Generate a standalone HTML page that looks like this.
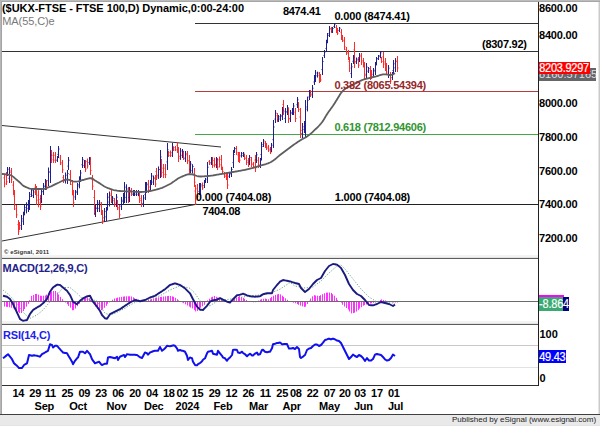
<!DOCTYPE html>
<html><head><meta charset="utf-8"><style>
html,body{margin:0;padding:0;}
body{width:600px;height:426px;position:relative;overflow:hidden;background:#fff;}
#w{position:absolute;left:0;top:0;width:600px;height:426px;}
</style></head><body><div id="w">
<svg width="600" height="426" style="position:absolute;left:0;top:0"><rect x="2" y="255" width="536" height="3" fill="#f3f3f3"/><rect x="2" y="321" width="536" height="3" fill="#f3f3f3"/><line x1="2" y1="258.5" x2="538" y2="258.5" stroke="#5c5c5c" stroke-width="1" /><line x1="2" y1="257.5" x2="538" y2="257.5" stroke="#e4e4e4" stroke-width="1" /><line x1="2" y1="324.5" x2="538" y2="324.5" stroke="#5c5c5c" stroke-width="1" /><line x1="2" y1="323.5" x2="538" y2="323.5" stroke="#e4e4e4" stroke-width="1" /><line x1="2" y1="385.5" x2="539" y2="385.5" stroke="#303030" stroke-width="1" /><line x1="538.5" y1="2" x2="538.5" y2="386" stroke="#202020" stroke-width="1" /><line x1="195" y1="23.5" x2="538" y2="23.5" stroke="#333" stroke-width="1" /><line x1="2" y1="51.5" x2="538" y2="51.5" stroke="#333" stroke-width="1" /><line x1="195" y1="91.5" x2="538" y2="91.5" stroke="#b43c3c" stroke-width="1.2" /><line x1="195" y1="134.5" x2="538" y2="134.5" stroke="#45a845" stroke-width="1.2" /><line x1="2" y1="204.5" x2="538" y2="204.5" stroke="#222" stroke-width="1" /><line x1="2" y1="125.5" x2="221" y2="147" stroke="#333" stroke-width="1" /><line x1="2" y1="241" x2="197" y2="204.2" stroke="#333" stroke-width="1" /><path d="M4.5,173.8V187.3M3.5,177.9h1M4.5,183.9h1M6.5,172.0V185.0M5.5,175.9h1M6.5,181.8h1M11.5,168.0V183.0M10.5,172.5h1M11.5,179.2h1M13.5,181.0V195.0M12.5,185.2h1M13.5,191.5h1M14.5,190.0V210.0M13.5,196.0h1M14.5,205.0h1M16.5,205.0V218.0M15.5,208.9h1M16.5,214.8h1M18.5,220.0V235.0M17.5,224.5h1M18.5,231.2h1M19.5,222.0V230.0M18.5,224.4h1M19.5,228.0h1M35.5,184.0V195.0M34.5,187.3h1M35.5,192.2h1M36.5,186.0V205.0M35.5,191.7h1M36.5,200.2h1M38.5,190.2V207.3M37.5,195.3h1M38.5,203.0h1M40.5,195.0V210.0M39.5,199.5h1M40.5,206.2h1M46.5,180.0V190.0M45.5,183.0h1M46.5,187.5h1M51.5,150.0V163.0M50.5,153.9h1M51.5,159.8h1M53.5,152.0V163.0M52.5,155.3h1M53.5,160.2h1M55.5,152.0V163.0M54.5,155.3h1M55.5,160.2h1M60.5,155.0V165.0M59.5,158.0h1M60.5,162.5h1M62.5,160.0V173.0M61.5,163.9h1M62.5,169.8h1M63.5,175.0V183.0M62.5,177.4h1M63.5,181.0h1M70.5,170.0V185.0M69.5,174.5h1M70.5,181.2h1M72.5,180.0V195.0M71.5,184.5h1M72.5,191.2h1M73.5,190.0V207.0M72.5,195.1h1M73.5,202.8h1M85.5,160.0V172.0M84.5,163.6h1M85.5,169.0h1M87.5,158.5V168.5M86.5,161.5h1M87.5,166.0h1M90.5,157.0V175.0M89.5,162.4h1M90.5,170.5h1M92.5,175.0V190.0M91.5,179.5h1M92.5,186.2h1M94.5,190.0V215.0M93.5,197.5h1M94.5,208.8h1M101.5,202.0V215.0M100.5,205.9h1M101.5,211.8h1M102.5,210.0V224.0M101.5,214.2h1M102.5,220.5h1M111.5,190.0V203.0M110.5,193.9h1M111.5,199.8h1M114.5,198.0V207.0M113.5,200.7h1M114.5,204.8h1M117.5,200.0V210.0M116.5,203.0h1M117.5,207.5h1M119.5,205.0V218.0M118.5,208.9h1M119.5,214.8h1M128.5,187.0V203.0M127.5,191.8h1M128.5,199.0h1M131.5,188.0V196.0M130.5,190.4h1M131.5,194.0h1M139.5,193.0V203.0M138.5,196.0h1M139.5,200.5h1M141.5,195.0V207.0M140.5,198.6h1M141.5,204.0h1M148.5,180.0V193.0M147.5,183.9h1M148.5,189.8h1M155.5,175.0V187.0M154.5,178.6h1M155.5,184.0h1M156.5,168.0V180.0M155.5,171.6h1M156.5,177.0h1M161.5,159.0V177.0M160.5,164.4h1M161.5,172.5h1M163.5,164.0V178.0M162.5,168.2h1M163.5,174.5h1M165.5,164.0V178.0M164.5,168.2h1M165.5,174.5h1M168.5,151.0V157.0M167.5,152.8h1M168.5,155.5h1M170.5,150.5V157.0M169.5,152.5h1M170.5,155.4h1M173.5,147.0V151.0M172.5,148.2h1M173.5,150.0h1M175.5,146.0V151.0M174.5,147.5h1M175.5,149.8h1M177.5,142.0V153.0M176.5,145.3h1M177.5,150.2h1M178.5,147.0V162.0M177.5,151.5h1M178.5,158.2h1M183.5,151.0V160.0M182.5,153.7h1M183.5,157.8h1M187.5,151.0V164.0M186.5,154.9h1M187.5,160.8h1M189.5,155.0V174.0M188.5,160.7h1M189.5,169.2h1M194.5,168.0V187.0M193.5,173.7h1M194.5,182.2h1M195.5,185.0V205.0M194.5,191.0h1M195.5,200.0h1M197.5,184.0V200.1M196.5,188.8h1M197.5,196.1h1M202.5,182.5V189.9M201.5,184.7h1M202.5,188.0h1M209.5,160.0V165.0M208.5,161.5h1M209.5,163.8h1M212.5,157.0V168.0M211.5,160.3h1M212.5,165.2h1M214.5,157.6V167.4M213.5,160.5h1M214.5,165.0h1M217.5,158.0V170.0M216.5,161.6h1M217.5,167.0h1M219.5,156.5V167.5M218.5,159.8h1M219.5,164.8h1M221.5,155.0V170.0M220.5,159.5h1M221.5,166.2h1M222.5,167.0V173.0M221.5,168.8h1M222.5,171.5h1M224.5,172.0V178.0M223.5,173.8h1M224.5,176.5h1M226.5,173.0V180.0M225.5,175.1h1M226.5,178.2h1M227.5,173.0V189.0M226.5,177.8h1M227.5,185.0h1M236.5,146.0V155.0M235.5,148.7h1M236.5,152.8h1M238.5,152.0V162.0M237.5,155.0h1M238.5,159.5h1M239.5,152.0V163.0M238.5,155.3h1M239.5,160.2h1M244.5,154.0V160.0M243.5,155.8h1M244.5,158.5h1M246.5,155.0V165.0M245.5,158.0h1M246.5,162.5h1M248.5,158.0V167.0M247.5,160.7h1M248.5,164.8h1M251.5,157.0V167.0M250.5,160.0h1M251.5,164.5h1M253.5,162.0V168.0M252.5,163.8h1M253.5,166.5h1M255.5,155.0V172.0M254.5,160.1h1M255.5,167.8h1M258.5,157.0V168.0M257.5,160.3h1M258.5,165.2h1M265.5,141.0V148.0M264.5,143.1h1M265.5,146.2h1M266.5,143.0V150.0M265.5,145.1h1M266.5,148.2h1M268.5,145.0V152.0M267.5,147.1h1M268.5,150.2h1M270.5,147.0V154.0M269.5,149.1h1M270.5,152.2h1M277.5,113.0V122.0M276.5,115.7h1M277.5,119.8h1M283.5,100.0V115.0M282.5,104.5h1M283.5,111.2h1M288.5,108.0V123.0M287.5,112.5h1M288.5,119.2h1M295.5,108.0V122.0M294.5,112.2h1M295.5,118.5h1M298.5,102.0V112.0M297.5,105.0h1M298.5,109.5h1M300.5,108.0V138.0M299.5,117.0h1M300.5,130.5h1M310.5,90.0V97.0M309.5,92.1h1M310.5,95.2h1M319.5,72.0V83.0M318.5,75.3h1M319.5,80.2h1M320.5,74.0V82.0M319.5,76.4h1M320.5,80.0h1M331.5,27.0V33.0M330.5,28.8h1M331.5,31.5h1M336.5,25.0V33.0M335.5,27.4h1M336.5,31.0h1M337.5,28.0V35.0M336.5,30.1h1M337.5,33.2h1M341.5,29.0V40.0M340.5,32.3h1M341.5,37.2h1M342.5,35.0V42.0M341.5,37.1h1M342.5,40.2h1M344.5,37.0V50.0M343.5,40.9h1M344.5,46.8h1M346.5,47.0V55.0M345.5,49.4h1M346.5,53.0h1M348.5,50.0V60.0M347.5,53.0h1M348.5,57.5h1M349.5,57.0V72.0M348.5,61.5h1M349.5,68.2h1M354.5,42.0V68.0M353.5,49.8h1M354.5,61.5h1M358.5,57.0V68.0M357.5,60.3h1M358.5,65.2h1M361.5,53.0V65.0M360.5,56.6h1M361.5,62.0h1M363.5,58.0V67.0M362.5,60.7h1M363.5,64.8h1M364.5,62.0V80.0M363.5,67.4h1M364.5,75.5h1M370.5,66.0V80.0M369.5,70.2h1M370.5,76.5h1M371.5,70.0V79.0M370.5,72.7h1M371.5,76.8h1M381.5,57.0V63.0M380.5,58.8h1M381.5,61.5h1M383.5,52.0V68.0M382.5,56.8h1M383.5,64.0h1M385.5,58.0V71.0M384.5,61.9h1M385.5,67.8h1M386.5,63.0V75.0M385.5,66.6h1M386.5,72.0h1M390.5,72.0V84.0M389.5,75.6h1M390.5,81.0h1M397.5,56.0V72.0M396.5,60.8h1M397.5,68.0h1" stroke="#ff2a2a" stroke-width="1" fill="none"/><path d="M7.5,167.0V176.0M6.5,173.3h1M7.5,169.2h1M9.5,167.0V183.0M8.5,178.2h1M9.5,171.0h1M21.5,215.0V230.0M20.5,225.5h1M21.5,218.8h1M23.5,212.0V225.0M22.5,221.1h1M23.5,215.2h1M24.5,205.0V215.0M23.5,212.0h1M24.5,207.5h1M26.5,202.3V213.4M25.5,210.0h1M26.5,205.1h1M28.5,200.0V212.0M27.5,208.4h1M28.5,203.0h1M29.5,192.0V210.0M28.5,204.6h1M29.5,196.5h1M31.5,188.0V197.0M30.5,194.3h1M31.5,190.2h1M33.5,190.0V198.0M32.5,195.6h1M33.5,192.0h1M41.5,188.0V203.0M40.5,198.5h1M41.5,191.8h1M43.5,183.0V195.0M42.5,191.4h1M43.5,186.0h1M45.5,179.0V190.0M44.5,186.7h1M45.5,181.8h1M48.5,167.5V186.2M47.5,180.6h1M48.5,172.2h1M50.5,146.0V183.0M49.5,171.9h1M50.5,155.2h1M57.5,156.0V162.0M56.5,160.2h1M57.5,157.5h1M58.5,146.0V158.0M57.5,154.4h1M58.5,149.0h1M65.5,172.5V183.5M64.5,180.2h1M65.5,175.2h1M67.5,170.0V184.0M66.5,179.8h1M67.5,173.5h1M68.5,157.0V170.0M67.5,166.1h1M68.5,160.2h1M75.5,190.0V200.0M74.5,197.0h1M75.5,192.5h1M77.5,183.0V195.0M76.5,191.4h1M77.5,186.0h1M79.5,176.3V188.3M78.5,184.7h1M79.5,179.3h1M80.5,170.0V182.0M79.5,178.4h1M80.5,173.0h1M82.5,157.0V168.0M81.5,164.7h1M82.5,159.8h1M84.5,160.0V168.0M83.5,165.6h1M84.5,162.0h1M89.5,157.0V165.0M88.5,162.6h1M89.5,159.0h1M95.5,205.0V217.0M94.5,213.4h1M95.5,208.0h1M97.5,200.0V212.0M96.5,208.4h1M97.5,203.0h1M99.5,200.0V212.0M98.5,208.4h1M99.5,203.0h1M104.5,208.0V222.0M103.5,217.8h1M104.5,211.5h1M106.5,207.0V221.0M105.5,216.8h1M106.5,210.5h1M107.5,193.0V210.0M106.5,204.9h1M107.5,197.2h1M109.5,191.5V206.5M108.5,202.0h1M109.5,195.3h1M112.5,196.0V205.0M111.5,202.3h1M112.5,198.2h1M116.5,194.0V207.0M115.5,203.1h1M116.5,197.2h1M121.5,197.0V210.0M120.5,206.1h1M121.5,200.2h1M123.5,193.0V205.0M122.5,201.4h1M123.5,196.0h1M124.5,182.0V203.0M123.5,196.7h1M124.5,187.2h1M126.5,184.3V203.0M125.5,197.4h1M126.5,189.0h1M129.5,187.0V202.0M128.5,197.5h1M129.5,190.8h1M133.5,190.0V196.0M132.5,194.2h1M133.5,191.5h1M134.5,190.0V196.0M133.5,194.2h1M134.5,191.5h1M136.5,190.0V196.0M135.5,194.2h1M136.5,191.5h1M138.5,190.0V196.0M137.5,194.2h1M138.5,191.5h1M143.5,195.0V207.0M142.5,203.4h1M143.5,198.0h1M145.5,182.0V200.0M144.5,194.6h1M145.5,186.5h1M146.5,182.0V193.0M145.5,189.7h1M146.5,184.8h1M150.5,180.0V190.0M149.5,187.0h1M150.5,182.5h1M151.5,173.0V185.0M150.5,181.4h1M151.5,176.0h1M153.5,175.5V185.0M152.5,182.1h1M153.5,177.9h1M158.5,166.4V178.9M157.5,175.2h1M158.5,169.5h1M160.5,150.0V178.0M159.5,169.6h1M160.5,157.0h1M167.5,143.0V170.0M166.5,161.9h1M167.5,149.8h1M172.5,143.0V157.0M171.5,152.8h1M172.5,146.5h1M180.5,148.1V159.9M179.5,156.3h1M180.5,151.0h1M182.5,149.0V158.0M181.5,155.3h1M182.5,151.2h1M185.5,151.0V162.0M184.5,158.7h1M185.5,153.8h1M190.5,161.0V173.0M189.5,169.4h1M190.5,164.0h1M192.5,164.2V173.5M191.5,170.7h1M192.5,166.5h1M199.5,183.0V195.0M198.5,191.4h1M199.5,186.0h1M200.5,183.0V195.0M199.5,191.4h1M200.5,186.0h1M204.5,180.0V188.0M203.5,185.6h1M204.5,182.0h1M205.5,178.0V183.0M204.5,181.5h1M205.5,179.2h1M207.5,162.0V183.0M206.5,176.7h1M207.5,167.2h1M211.5,157.0V165.0M210.5,162.6h1M211.5,159.0h1M216.5,157.0V168.0M215.5,164.7h1M216.5,159.8h1M229.5,172.0V178.0M228.5,176.2h1M229.5,173.5h1M231.5,167.0V177.0M230.5,174.0h1M231.5,169.5h1M233.5,150.0V168.0M232.5,162.6h1M233.5,154.5h1M234.5,147.0V153.0M233.5,151.2h1M234.5,148.5h1M241.5,152.0V157.5M240.5,155.9h1M241.5,153.4h1M243.5,152.0V157.0M242.5,155.5h1M243.5,153.2h1M249.5,155.0V165.0M248.5,162.0h1M249.5,157.5h1M256.5,152.0V163.0M255.5,159.7h1M256.5,154.8h1M260.5,158.0V168.0M259.5,165.0h1M260.5,160.5h1M261.5,142.0V160.0M260.5,154.6h1M261.5,146.5h1M263.5,139.0V147.0M262.5,144.6h1M263.5,141.0h1M271.5,143.0V152.0M270.5,149.3h1M271.5,145.2h1M273.5,120.0V148.0M272.5,139.6h1M273.5,127.0h1M275.5,110.0V123.0M274.5,119.1h1M275.5,113.2h1M278.5,115.0V122.0M277.5,119.9h1M278.5,116.8h1M280.5,114.1V121.1M279.5,119.0h1M280.5,115.9h1M282.5,107.0V120.0M281.5,116.1h1M282.5,110.2h1M285.5,108.0V123.0M284.5,118.5h1M285.5,111.8h1M287.5,105.0V115.0M286.5,112.0h1M287.5,107.5h1M290.5,110.0V122.0M289.5,118.4h1M290.5,113.0h1M292.5,108.0V115.0M291.5,112.9h1M292.5,109.8h1M293.5,103.0V115.0M292.5,111.4h1M293.5,106.0h1M297.5,97.0V108.0M296.5,104.7h1M297.5,99.8h1M302.5,123.0V138.0M301.5,133.5h1M302.5,126.8h1M304.5,121.0V133.0M303.5,129.4h1M304.5,124.0h1M305.5,100.0V137.0M304.5,125.9h1M305.5,109.2h1M307.5,96.6V111.4M306.5,107.0h1M307.5,100.3h1M309.5,90.0V100.0M308.5,97.0h1M309.5,92.5h1M312.5,85.0V98.0M311.5,94.1h1M312.5,88.2h1M314.5,75.0V85.0M313.5,82.0h1M314.5,77.5h1M315.5,70.0V82.0M314.5,78.4h1M315.5,73.0h1M317.5,71.7V77.6M316.5,75.8h1M317.5,73.1h1M322.5,57.0V75.0M321.5,69.6h1M322.5,61.5h1M324.5,50.0V58.0M323.5,55.6h1M324.5,52.0h1M326.5,40.0V52.0M325.5,48.4h1M326.5,43.0h1M327.5,33.0V43.0M326.5,40.0h1M327.5,35.5h1M329.5,26.0V37.0M328.5,33.7h1M329.5,28.8h1M332.5,27.0V33.0M331.5,31.2h1M332.5,28.5h1M334.5,23.0V28.0M333.5,26.5h1M334.5,24.2h1M339.5,27.0V32.0M338.5,30.5h1M339.5,28.2h1M351.5,63.0V78.0M350.5,73.5h1M351.5,66.8h1M353.5,55.0V64.0M352.5,61.3h1M353.5,57.2h1M356.5,57.5V64.0M355.5,62.0h1M356.5,59.1h1M359.5,53.0V62.0M358.5,59.3h1M359.5,55.2h1M366.5,63.0V79.0M365.5,74.2h1M366.5,67.0h1M368.5,67.0V73.0M367.5,71.2h1M368.5,68.5h1M373.5,68.0V77.0M372.5,74.3h1M373.5,70.2h1M375.5,62.0V75.0M374.5,71.1h1M375.5,65.2h1M376.5,57.0V65.0M375.5,62.6h1M376.5,59.0h1M378.5,55.0V60.0M377.5,58.5h1M378.5,56.2h1M380.5,51.0V58.0M379.5,55.9h1M380.5,52.8h1M388.5,65.0V78.0M387.5,74.1h1M388.5,68.2h1M392.5,72.0V80.0M391.5,77.6h1M392.5,74.0h1M393.5,60.0V75.0M392.5,70.5h1M393.5,63.8h1M395.5,58.1V72.0M394.5,67.8h1M395.5,61.6h1" stroke="#1e1e8c" stroke-width="1" fill="none"/><polyline points="2.00,174.00 3.00,174.02 4.00,174.08 5.00,174.16 6.00,174.28 7.00,174.43 8.00,174.60 9.00,174.79 10.00,175.00 11.00,175.34 12.00,175.90 13.00,176.61 14.00,177.44 15.00,178.31 16.00,179.18 17.00,180.00 18.00,180.83 19.00,181.75 20.00,182.72 21.00,183.69 22.00,184.62 23.00,185.46 24.00,186.17 25.00,186.70 26.00,187.13 27.00,187.54 28.00,187.93 29.00,188.28 30.00,188.57 31.00,188.80 32.00,188.95 33.00,189.00 34.00,189.00 35.00,189.00 36.00,189.00 37.00,189.00 38.00,189.00 39.00,189.00 40.00,189.00 41.00,189.00 42.00,189.00 43.00,188.94 44.00,188.77 45.00,188.52 46.00,188.20 47.00,187.84 48.00,187.46 49.00,187.07 50.00,186.70 51.00,186.32 52.00,185.88 53.00,185.41 54.00,184.92 55.00,184.42 56.00,183.92 57.00,183.44 58.00,183.00 59.00,182.55 60.00,182.05 61.00,181.53 62.00,181.02 63.00,180.54 64.00,180.13 65.00,179.80 66.00,179.58 67.00,179.50 68.00,179.59 69.00,179.84 70.00,180.20 71.00,180.60 72.00,181.00 73.00,181.36 74.00,181.61 75.00,181.70 76.00,181.65 77.00,181.52 78.00,181.32 79.00,181.07 80.00,180.79 81.00,180.51 82.00,180.24 83.00,180.00 84.00,179.76 85.00,179.47 86.00,179.17 87.00,178.88 88.00,178.62 89.00,178.40 90.00,178.25 91.00,178.20 92.00,178.45 93.00,179.06 94.00,179.81 95.00,180.50 96.00,181.09 97.00,181.68 98.00,182.27 99.00,182.88 100.00,183.50 101.00,184.17 102.00,184.88 103.00,185.58 104.00,186.24 105.00,186.80 106.00,187.27 107.00,187.70 108.00,188.09 109.00,188.45 110.00,188.80 111.00,189.14 112.00,189.48 113.00,189.80 114.00,190.08 115.00,190.30 116.00,190.48 117.00,190.65 118.00,190.79 119.00,190.91 120.00,191.00 121.00,191.07 122.00,191.14 123.00,191.19 124.00,191.24 125.00,191.28 126.00,191.33 127.00,191.37 128.00,191.41 129.00,191.45 130.00,191.50 131.00,191.55 132.00,191.62 133.00,191.68 134.00,191.75 135.00,191.81 136.00,191.87 137.00,191.92 138.00,191.96 139.00,191.99 140.00,192.00 141.00,191.98 142.00,191.94 143.00,191.87 144.00,191.79 145.00,191.68 146.00,191.56 147.00,191.43 148.00,191.29 149.00,191.14 150.00,191.00 151.00,190.84 152.00,190.66 153.00,190.45 154.00,190.22 155.00,189.97 156.00,189.71 157.00,189.42 158.00,189.13 159.00,188.82 160.00,188.50 161.00,188.16 162.00,187.79 163.00,187.39 164.00,186.96 165.00,186.51 166.00,186.04 167.00,185.55 168.00,185.05 169.00,184.53 170.00,184.00 171.00,183.43 172.00,182.78 173.00,182.09 174.00,181.37 175.00,180.63 176.00,179.91 177.00,179.21 178.00,178.57 179.00,177.99 180.00,177.50 181.00,177.05 182.00,176.60 183.00,176.14 184.00,175.71 185.00,175.30 186.00,174.94 187.00,174.64 188.00,174.40 189.00,174.25 190.00,174.20 191.00,174.26 192.00,174.44 193.00,174.70 194.00,175.01 195.00,175.35 196.00,175.69 197.00,176.00 198.00,176.26 199.00,176.44 200.00,176.50 201.00,176.49 202.00,176.46 203.00,176.41 204.00,176.35 205.00,176.27 206.00,176.19 207.00,176.09 208.00,176.00 209.00,175.90 210.00,175.80 211.00,175.69 212.00,175.56 213.00,175.42 214.00,175.25 215.00,175.08 216.00,174.91 217.00,174.73 218.00,174.55 219.00,174.37 220.00,174.20 221.00,174.03 222.00,173.87 223.00,173.70 224.00,173.53 225.00,173.36 226.00,173.18 227.00,173.01 228.00,172.84 229.00,172.67 230.00,172.50 231.00,172.33 232.00,172.17 233.00,172.00 234.00,171.84 235.00,171.67 236.00,171.51 237.00,171.34 238.00,171.16 239.00,170.98 240.00,170.80 241.00,170.61 242.00,170.42 243.00,170.22 244.00,170.02 245.00,169.82 246.00,169.61 247.00,169.39 248.00,169.17 249.00,168.94 250.00,168.70 251.00,168.45 252.00,168.19 253.00,167.91 254.00,167.62 255.00,167.33 256.00,167.03 257.00,166.73 258.00,166.42 259.00,166.11 260.00,165.80 261.00,165.50 262.00,165.21 263.00,164.92 264.00,164.63 265.00,164.33 266.00,164.02 267.00,163.68 268.00,163.32 269.00,162.93 270.00,162.50 271.00,161.99 272.00,161.38 273.00,160.70 274.00,160.00 275.00,159.25 276.00,158.43 277.00,157.56 278.00,156.69 279.00,155.82 280.00,155.00 281.00,154.21 282.00,153.44 283.00,152.67 284.00,151.91 285.00,151.16 286.00,150.42 287.00,149.68 288.00,148.95 289.00,148.23 290.00,147.50 291.00,146.77 292.00,146.05 293.00,145.32 294.00,144.60 295.00,143.88 296.00,143.18 297.00,142.48 298.00,141.80 299.00,141.14 300.00,140.50 301.00,139.90 302.00,139.33 303.00,138.79 304.00,138.26 305.00,137.72 306.00,137.15 307.00,136.53 308.00,135.86 309.00,135.11 310.00,134.31 311.00,133.45 312.00,132.55 313.00,131.62 314.00,130.67 315.00,129.71 316.00,128.76 317.00,127.79 318.00,126.79 319.00,125.75 320.00,124.66 321.00,123.50 322.00,122.26 323.00,120.87 324.00,119.26 325.00,117.55 326.00,115.84 327.00,114.25 328.00,112.77 329.00,111.35 330.00,109.97 331.00,108.59 332.00,107.19 333.00,105.75 334.00,104.23 335.00,102.65 336.00,101.03 337.00,99.41 338.00,97.81 339.00,96.22 340.00,94.58 341.00,93.05 342.00,91.79 343.00,90.74 344.00,89.81 345.00,89.00 346.00,88.30 347.00,87.71 348.00,87.19 349.00,86.73 350.00,86.29 351.00,85.83 352.00,85.35 353.00,84.83 354.00,84.30 355.00,83.75 356.00,83.19 357.00,82.64 358.00,82.09 359.00,81.56 360.00,81.06 361.00,80.59 362.00,80.16 363.00,79.77 364.00,79.44 365.00,79.13 366.00,78.85 367.00,78.59 368.00,78.35 369.00,78.11 370.00,77.89 371.00,77.67 372.00,77.45 373.00,77.22 374.00,76.99 375.00,76.75 376.00,76.48 377.00,76.17 378.00,75.84 379.00,75.50 380.00,75.17 381.00,74.87 382.00,74.62 383.00,74.43 384.00,74.32 385.00,74.31 386.00,74.40 387.00,74.55 388.00,74.73 389.00,74.89 390.00,74.99 391.00,74.97 392.00,74.74 393.00,74.34 394.00,73.80 395.00,73.20" fill="none" stroke="#5e5e5e" stroke-width="1.8" stroke-linejoin="round" /><path d="M4.5,301.5V306.6M6.5,301.5V306.8M7.5,301.5V306.9M9.5,301.5V307.3M11.5,301.5V307.7M13.5,301.5V308.3M14.5,301.5V309.4M16.5,301.5V310.5M18.5,301.5V311.9M19.5,301.5V313.0M21.5,301.5V313.0M23.5,301.5V311.0M24.5,301.5V309.0M26.5,301.5V306.7M28.5,301.5V303.9M29.5,301.5V300.2M31.5,301.5V295.9M33.5,301.5V295.0M35.5,301.5V294.0M36.5,301.5V293.9M38.5,301.5V294.6M40.5,301.5V295.7M41.5,301.5V295.9M43.5,301.5V295.7M45.5,301.5V295.5M46.5,301.5V294.6M48.5,301.5V293.6M50.5,301.5V292.5M51.5,301.5V291.4M53.5,301.5V291.0M55.5,301.5V291.0M57.5,301.5V292.5M58.5,301.5V294.4M60.5,301.5V296.9M62.5,301.5V299.1M63.5,301.5V300.8M65.5,301.5V302.5M67.5,301.5V304.2M68.5,301.5V305.9M70.5,301.5V307.6M72.5,301.5V310.2M73.5,301.5V310.1M75.5,301.5V308.6M77.5,301.5V306.2M79.5,301.5V303.7M80.5,301.5V301.4M82.5,301.5V299.1M84.5,301.5V298.1M85.5,301.5V297.1M87.5,301.5V297.3M89.5,301.5V298.3M90.5,301.5V299.9M92.5,301.5V301.6M94.5,301.5V304.2M95.5,301.5V306.5M97.5,301.5V308.4M99.5,301.5V310.3M101.5,301.5V310.2M102.5,301.5V309.7M104.5,301.5V307.8M106.5,301.5V305.8M107.5,301.5V303.8M109.5,301.5V302.3M111.5,301.5V301.0M112.5,301.5V299.7M114.5,301.5V298.5M116.5,301.5V298.1M117.5,301.5V297.6M119.5,301.5V297.2M121.5,301.5V296.9M123.5,301.5V296.6M124.5,301.5V296.4M126.5,301.5V296.3M128.5,301.5V296.3M129.5,301.5V296.3M131.5,301.5V296.5M133.5,301.5V297.3M134.5,301.5V298.2M136.5,301.5V298.9M138.5,301.5V299.7M139.5,301.5V300.0M141.5,301.5V300.2M143.5,301.5V300.4M145.5,301.5V300.6M146.5,301.5V300.4M148.5,301.5V300.0M150.5,301.5V299.6M151.5,301.5V299.1M153.5,301.5V298.6M155.5,301.5V298.1M156.5,301.5V297.7M158.5,301.5V297.4M160.5,301.5V297.0M161.5,301.5V296.8M163.5,301.5V296.5M165.5,301.5V296.3M167.5,301.5V296.1M168.5,301.5V295.9M170.5,301.5V296.0M172.5,301.5V296.4M173.5,301.5V296.8M175.5,301.5V297.8M177.5,301.5V299.2M178.5,301.5V300.4M180.5,301.5V301.5M182.5,301.5V302.4M183.5,301.5V303.2M185.5,301.5V304.3M187.5,301.5V305.5M189.5,301.5V306.6M190.5,301.5V307.5M192.5,301.5V308.4M194.5,301.5V309.9M195.5,301.5V311.4M197.5,301.5V311.0M199.5,301.5V309.3M200.5,301.5V307.8M202.5,301.5V306.3M204.5,301.5V304.5M205.5,301.5V302.2M207.5,301.5V300.4M209.5,301.5V298.7M211.5,301.5V297.3M212.5,301.5V296.7M214.5,301.5V296.0M216.5,301.5V296.8M217.5,301.5V297.6M219.5,301.5V298.5M221.5,301.5V299.3M222.5,301.5V300.1M224.5,301.5V300.7M226.5,301.5V301.2M227.5,301.5V301.8M229.5,301.5V301.3M231.5,301.5V300.4M233.5,301.5V299.4M234.5,301.5V298.4M236.5,301.5V297.6M238.5,301.5V296.7M239.5,301.5V296.1M241.5,301.5V297.0M243.5,301.5V297.8M244.5,301.5V298.8M246.5,301.5V300.0M248.5,301.5V301.3M249.5,301.5V301.7M251.5,301.5V302.0M253.5,301.5V302.3M255.5,301.5V302.2M256.5,301.5V301.4M258.5,301.5V300.6M260.5,301.5V299.7M261.5,301.5V299.2M263.5,301.5V298.8M265.5,301.5V298.6M266.5,301.5V299.0M268.5,301.5V299.3M270.5,301.5V298.1M271.5,301.5V296.9M273.5,301.5V295.7M275.5,301.5V294.9M277.5,301.5V294.4M278.5,301.5V293.9M280.5,301.5V294.4M282.5,301.5V295.7M283.5,301.5V296.9M285.5,301.5V298.3M287.5,301.5V299.8M288.5,301.5V301.1M290.5,301.5V301.6M292.5,301.5V302.1M293.5,301.5V302.7M295.5,301.5V303.3M297.5,301.5V304.0M298.5,301.5V304.8M300.5,301.5V305.6M302.5,301.5V306.4M304.5,301.5V306.9M305.5,301.5V306.6M307.5,301.5V304.1M309.5,301.5V300.7M310.5,301.5V298.5M312.5,301.5V296.3M314.5,301.5V295.2M315.5,301.5V295.5M317.5,301.5V295.7M319.5,301.5V296.0M320.5,301.5V295.2M322.5,301.5V294.2M324.5,301.5V293.3M326.5,301.5V292.7M327.5,301.5V292.6M329.5,301.5V292.5M331.5,301.5V292.9M332.5,301.5V294.2M334.5,301.5V295.7M336.5,301.5V297.8M337.5,301.5V300.2M339.5,301.5V301.1M341.5,301.5V302.6M342.5,301.5V304.8M344.5,301.5V306.5M346.5,301.5V308.0M348.5,301.5V309.6M349.5,301.5V311.5M351.5,301.5V313.4M353.5,301.5V313.1M354.5,301.5V312.7M356.5,301.5V311.6M358.5,301.5V310.1M359.5,301.5V308.6M361.5,301.5V307.2M363.5,301.5V305.7M364.5,301.5V305.1M366.5,301.5V304.5M368.5,301.5V304.0M370.5,301.5V303.6M371.5,301.5V303.2M373.5,301.5V302.9M375.5,301.5V302.6M376.5,301.5V301.8M378.5,301.5V300.9M380.5,301.5V300.0M381.5,301.5V299.4M383.5,301.5V299.9M385.5,301.5V300.4M386.5,301.5V300.9M388.5,301.5V301.3M390.5,301.5V301.7M392.5,301.5V302.1M393.5,301.5V302.5M395.5,301.5V302.5M397.5,301.5V302.5" stroke="#ff30ff" stroke-width="1" fill="none"/><line x1="2" y1="301.5" x2="538" y2="301.5" stroke="#6a6a6a" stroke-width="1" /><polyline points="3.00,290.00 4.00,290.83 5.00,291.66 6.00,292.49 7.00,293.31 8.00,294.14 9.00,294.97 10.00,295.80 11.00,297.00 12.00,298.20 13.00,299.40 14.00,300.60 15.00,301.80 16.00,303.00 17.00,304.20 18.00,305.45 19.00,306.70 20.00,307.95 21.00,309.20 22.00,310.45 23.00,311.70 24.00,312.95 25.00,314.20 26.00,315.02 27.00,315.84 28.00,316.66 29.00,317.48 30.00,318.30 31.00,317.83 32.00,317.36 33.00,316.89 34.00,316.41 35.00,315.94 36.00,315.47 37.00,315.00 38.00,314.17 39.00,313.33 40.00,312.50 41.00,311.67 42.00,310.83 43.00,310.00 44.00,308.81 45.00,307.63 46.00,306.44 47.00,305.26 48.00,304.07 49.00,302.89 50.00,301.70 51.00,300.74 52.00,299.79 53.00,298.83 54.00,297.87 55.00,296.91 56.00,295.96 57.00,295.00 58.00,293.75 59.00,292.50 60.00,291.25 61.00,290.00 62.00,288.75 63.00,287.50 64.00,287.50 65.00,287.50 66.00,287.50 67.00,287.50 68.00,287.50 69.00,287.50 70.00,287.50 71.00,288.33 72.00,289.16 73.00,289.99 74.00,290.81 75.00,291.64 76.00,292.47 77.00,293.30 78.00,294.28 79.00,295.27 80.00,296.25 81.00,297.23 82.00,298.22 83.00,299.20 84.00,299.20 85.00,299.20 86.00,299.20 87.00,299.20 88.00,299.20 89.00,299.20 90.00,299.20 91.00,299.43 92.00,299.66 93.00,299.89 94.00,300.11 95.00,300.34 96.00,300.57 97.00,300.80 98.00,302.47 99.00,304.13 100.00,305.80 101.00,307.30 102.00,308.80 103.00,310.30 104.00,311.80 105.00,313.30 106.00,313.64 107.00,313.98 108.00,314.32 109.00,314.66 110.00,315.00 111.00,314.66 112.00,314.32 113.00,313.98 114.00,313.64 115.00,313.30 116.00,312.80 117.00,312.30 118.00,311.80 119.00,311.30 120.00,310.80 121.00,310.30 122.00,309.80 123.00,309.30 124.00,308.80 125.00,308.30 126.00,307.64 127.00,306.98 128.00,306.32 129.00,305.66 130.00,305.00 131.00,304.50 132.00,304.00 133.00,303.50 134.00,303.00 135.00,302.50 136.00,302.16 137.00,301.82 138.00,301.48 139.00,301.14 140.00,300.80 141.00,300.64 142.00,300.48 143.00,300.32 144.00,300.16 145.00,300.00 146.00,299.84 147.00,299.68 148.00,299.52 149.00,299.36 150.00,299.20 151.00,298.86 152.00,298.52 153.00,298.18 154.00,297.84 155.00,297.50 156.00,297.16 157.00,296.82 158.00,296.48 159.00,296.14 160.00,295.80 161.00,295.22 162.00,294.64 163.00,294.06 164.00,293.48 165.00,292.90 166.00,292.32 167.00,291.74 168.00,291.16 169.00,290.58 170.00,290.00 171.00,289.58 172.00,289.16 173.00,288.74 174.00,288.32 175.00,287.90 176.00,287.48 177.00,287.06 178.00,286.64 179.00,286.22 180.00,285.80 181.00,286.05 182.00,286.30 183.00,286.55 184.00,286.80 185.00,287.05 186.00,287.30 187.00,287.55 188.00,287.80 189.00,288.05 190.00,288.30 191.00,289.30 192.00,290.30 193.00,291.30 194.00,292.30 195.00,293.30 196.00,294.80 197.00,296.30 198.00,297.80 199.00,299.30 200.00,300.80 201.00,301.64 202.00,302.48 203.00,303.32 204.00,304.16 205.00,305.00 206.00,305.16 207.00,305.32 208.00,305.48 209.00,305.64 210.00,305.80 211.00,305.14 212.00,304.48 213.00,303.82 214.00,303.16 215.00,302.50 216.00,302.00 217.00,301.50 218.00,301.00 219.00,300.50 220.00,300.00 221.00,299.92 222.00,299.84 223.00,299.76 224.00,299.68 225.00,299.60 226.00,299.52 227.00,299.44 228.00,299.36 229.00,299.28 230.00,299.20 231.00,299.03 232.00,298.86 233.00,298.69 234.00,298.52 235.00,298.35 236.00,298.18 237.00,298.01 238.00,297.84 239.00,297.67 240.00,297.50 241.00,297.33 242.00,297.16 243.00,296.99 244.00,296.82 245.00,296.65 246.00,296.48 247.00,296.31 248.00,296.14 249.00,295.97 250.00,295.80 251.00,295.72 252.00,295.64 253.00,295.56 254.00,295.48 255.00,295.40 256.00,295.32 257.00,295.24 258.00,295.16 259.00,295.08 260.00,295.00 261.00,294.83 262.00,294.66 263.00,294.49 264.00,294.32 265.00,294.15 266.00,293.98 267.00,293.81 268.00,293.64 269.00,293.47 270.00,293.30 271.00,292.89 272.00,292.48 273.00,292.07 274.00,291.66 275.00,291.25 276.00,290.84 277.00,290.43 278.00,290.02 279.00,289.61 280.00,289.20 281.00,288.53 282.00,287.86 283.00,287.19 284.00,286.52 285.00,285.85 286.00,285.18 287.00,284.51 288.00,283.84 289.00,283.17 290.00,282.50 291.00,283.20 292.00,283.90 293.00,284.60 294.00,285.30 295.00,286.00 296.00,286.20 297.00,286.40 298.00,286.60 299.00,286.80 300.00,287.00 301.00,287.20 302.00,287.40 303.00,287.60 304.00,287.80 305.00,288.00 306.00,287.88 307.00,287.75 308.00,287.62 309.00,287.50 310.00,287.38 311.00,287.25 312.00,287.12 313.00,287.00 314.00,286.25 315.00,285.50 316.00,284.75 317.00,284.00 318.00,283.25 319.00,282.50 320.00,281.75 321.00,281.00 322.00,280.00 323.00,279.00 324.00,278.00 325.00,277.00 326.00,276.00 327.00,275.00 328.00,274.00 329.00,273.00 330.00,272.12 331.00,271.25 332.00,270.38 333.00,269.50 334.00,268.62 335.00,267.75 336.00,266.88 337.00,266.00 338.00,265.75 339.00,265.50 340.00,265.25 341.00,265.00 342.00,266.00 343.00,267.00 344.00,268.00 345.00,269.00 346.00,270.25 347.00,271.50 348.00,272.75 349.00,274.00 350.00,275.25 351.00,276.50 352.00,277.75 353.00,279.00 354.00,280.25 355.00,281.50 356.00,282.75 357.00,284.00 358.00,285.25 359.00,286.50 360.00,287.75 361.00,289.00 362.00,290.00 363.00,291.00 364.00,292.00 365.00,293.00 366.00,294.00 367.00,295.00 368.00,296.00 369.00,297.00 370.00,297.62 371.00,298.25 372.00,298.88 373.00,299.50 374.00,300.12 375.00,300.75 376.00,301.38 377.00,302.00 378.00,302.07 379.00,302.15 380.00,302.23 381.00,302.30 382.00,302.38 383.00,302.45 384.00,302.53 385.00,302.60 386.00,302.65 387.00,302.70 388.00,302.75 389.00,302.80 390.00,302.85 391.00,302.90 392.00,302.95 393.00,303.00 394.00,303.20 395.00,303.40" fill="none" stroke="#6aa884" stroke-width="1" stroke-linejoin="round" stroke-dasharray="1.2,1.6"/><polyline points="3.00,295.80 4.00,296.02 5.00,296.25 6.00,296.48 7.00,296.70 8.00,297.47 9.00,298.23 10.00,299.00 11.00,300.67 12.00,302.33 13.00,304.00 14.00,306.12 15.00,308.25 16.00,310.38 17.00,312.50 18.00,314.67 19.00,316.83 20.00,319.00 21.00,319.60 22.00,320.20 23.00,320.80 24.00,320.60 25.00,320.40 26.00,320.20 27.00,320.00 28.00,318.00 29.00,316.00 30.00,314.00 31.00,312.67 32.00,311.33 33.00,310.00 34.00,309.38 35.00,308.75 36.00,308.12 37.00,307.50 38.00,306.93 39.00,306.37 40.00,305.80 41.00,304.97 42.00,304.13 43.00,303.30 44.00,302.23 45.00,301.15 46.00,300.07 47.00,299.00 48.00,296.57 49.00,294.13 50.00,291.70 51.00,290.30 52.00,288.90 53.00,287.50 54.00,286.80 55.00,286.10 56.00,285.40 57.00,284.70 58.00,284.80 59.00,284.90 60.00,285.00 61.00,285.83 62.00,286.67 63.00,287.50 64.00,288.32 65.00,289.15 66.00,289.98 67.00,290.80 68.00,292.20 69.00,293.60 70.00,295.00 71.00,297.23 72.00,299.47 73.00,301.70 74.00,302.32 75.00,302.95 76.00,303.57 77.00,304.20 78.00,303.07 79.00,301.93 80.00,300.80 81.00,299.97 82.00,299.13 83.00,298.30 84.00,297.80 85.00,297.30 86.00,296.80 87.00,296.30 88.00,296.13 89.00,295.97 90.00,295.80 91.00,297.77 92.00,299.73 93.00,301.70 94.00,302.95 95.00,304.20 96.00,305.45 97.00,306.70 98.00,308.13 99.00,309.57 100.00,311.00 101.00,313.00 102.00,315.00 103.00,316.10 104.00,317.20 105.00,318.30 106.00,318.50 107.00,318.70 108.00,317.20 109.00,315.70 110.00,314.20 111.00,313.70 112.00,313.20 113.00,312.70 114.00,312.20 115.00,311.70 116.00,311.20 117.00,310.70 118.00,310.20 119.00,309.70 120.00,309.20 121.00,308.52 122.00,307.84 123.00,307.16 124.00,306.48 125.00,305.80 126.00,305.14 127.00,304.48 128.00,303.82 129.00,303.16 130.00,302.50 131.00,302.00 132.00,301.50 133.00,301.00 134.00,300.50 135.00,300.00 136.00,300.26 137.00,300.52 138.00,300.78 139.00,301.04 140.00,301.30 141.00,301.04 142.00,300.78 143.00,300.52 144.00,300.26 145.00,300.00 146.00,299.50 147.00,299.00 148.00,298.50 149.00,298.00 150.00,297.50 151.00,297.16 152.00,296.82 153.00,296.48 154.00,296.14 155.00,295.80 156.00,295.14 157.00,294.48 158.00,293.82 159.00,293.16 160.00,292.50 161.00,291.84 162.00,291.18 163.00,290.52 164.00,289.86 165.00,289.20 166.00,288.36 167.00,287.52 168.00,286.68 169.00,285.84 170.00,285.00 171.00,284.66 172.00,284.32 173.00,283.98 174.00,283.64 175.00,283.30 176.00,283.64 177.00,283.98 178.00,284.32 179.00,284.66 180.00,285.00 181.00,285.66 182.00,286.32 183.00,286.98 184.00,287.64 185.00,288.30 186.00,289.30 187.00,290.30 188.00,291.30 189.00,292.30 190.00,293.30 191.00,295.27 192.00,297.23 193.00,299.20 194.00,301.07 195.00,302.95 196.00,304.82 197.00,306.70 198.00,307.70 199.00,308.70 200.00,309.70 201.00,309.80 202.00,309.90 203.00,310.00 204.00,308.95 205.00,307.90 206.00,306.85 207.00,305.80 208.00,304.43 209.00,303.07 210.00,301.70 211.00,301.23 212.00,300.77 213.00,300.30 214.00,300.15 215.00,300.00 216.00,299.85 217.00,299.70 218.00,299.13 219.00,298.57 220.00,298.00 221.00,298.57 222.00,299.13 223.00,299.70 224.00,300.20 225.00,300.70 226.00,301.20 227.00,301.70 228.00,301.97 229.00,302.23 230.00,302.50 231.00,301.40 232.00,300.30 233.00,299.20 234.00,298.23 235.00,297.25 236.00,296.27 237.00,295.30 238.00,295.10 239.00,294.90 240.00,294.70 241.00,294.37 242.00,294.03 243.00,293.70 244.00,294.10 245.00,294.50 246.00,294.90 247.00,295.30 248.00,295.63 249.00,295.97 250.00,296.30 251.00,296.38 252.00,296.46 253.00,296.54 254.00,296.62 255.00,296.70 256.00,296.62 257.00,296.54 258.00,296.46 259.00,296.38 260.00,296.30 261.00,295.60 262.00,294.90 263.00,294.20 264.00,293.98 265.00,293.75 266.00,293.52 267.00,293.30 268.00,293.30 269.00,293.30 270.00,293.30 271.00,293.30 272.00,293.30 273.00,290.00 274.00,288.75 275.00,287.50 276.00,286.25 277.00,285.00 278.00,283.90 279.00,282.80 280.00,281.70 281.00,281.13 282.00,280.57 283.00,280.00 284.00,280.20 285.00,280.40 286.00,280.60 287.00,280.80 288.00,281.00 289.00,281.20 290.00,281.40 291.00,281.72 292.00,282.04 293.00,282.36 294.00,282.68 295.00,283.00 296.00,283.25 297.00,283.50 298.00,283.75 299.00,284.00 300.00,286.00 301.00,288.00 302.00,289.00 303.00,290.00 304.00,291.00 305.00,292.00 306.00,291.25 307.00,290.50 308.00,289.75 309.00,289.00 310.00,287.75 311.00,286.50 312.00,285.25 313.00,284.00 314.00,283.00 315.00,282.00 316.00,281.00 317.00,280.00 318.00,279.50 319.00,279.00 320.00,278.50 321.00,278.00 322.00,276.25 323.00,274.50 324.00,272.75 325.00,271.00 326.00,269.75 327.00,268.50 328.00,267.25 329.00,266.00 330.00,265.50 331.00,265.00 332.00,264.50 333.00,264.00 334.00,264.15 335.00,264.30 336.00,264.45 337.00,264.60 338.00,265.45 339.00,266.30 340.00,267.15 341.00,268.00 342.00,269.75 343.00,271.50 344.00,273.25 345.00,275.00 346.00,277.25 347.00,279.50 348.00,281.75 349.00,284.00 350.00,285.50 351.00,287.00 352.00,288.50 353.00,290.00 354.00,291.00 355.00,292.00 356.00,293.00 357.00,294.00 358.00,294.50 359.00,295.00 360.00,295.50 361.00,296.00 362.00,297.00 363.00,298.00 364.00,299.00 365.00,300.00 366.00,301.25 367.00,302.50 368.00,303.75 369.00,305.00 370.00,305.10 371.00,305.20 372.00,305.30 373.00,305.40 374.00,305.05 375.00,304.70 376.00,304.35 377.00,304.00 378.00,303.50 379.00,303.00 380.00,302.50 381.00,302.00 382.00,302.25 383.00,302.50 384.00,302.75 385.00,303.00 386.00,303.25 387.00,303.50 388.00,303.75 389.00,304.00 390.00,304.50 391.00,305.00 392.00,305.50 393.00,306.00 394.00,305.30 395.00,304.60" fill="none" stroke="#1a1a80" stroke-width="1.9" stroke-linejoin="round" /><line x1="2" y1="345.5" x2="538" y2="345.5" stroke="#c9c9c9" stroke-width="stroke-dasharray="1.2,1.3"" /><line x1="2" y1="367.5" x2="538" y2="367.5" stroke="#e2e2e2" stroke-width="1" /><polyline points="3.00,358.30 4.00,357.50 5.00,356.70 6.00,355.87 7.00,355.03 8.00,354.20 9.00,355.45 10.00,356.70 11.00,357.95 12.00,359.20 13.00,361.25 14.00,363.30 15.00,364.13 16.00,364.97 17.00,365.80 18.00,366.90 19.00,368.00 20.00,368.00 21.00,368.00 22.00,368.00 23.00,366.50 24.00,365.00 25.00,364.43 26.00,363.87 27.00,363.30 28.00,359.15 29.00,355.00 30.00,355.27 31.00,355.53 32.00,355.80 33.00,355.55 34.00,355.30 35.00,355.47 36.00,355.63 37.00,355.80 38.00,356.10 39.00,356.40 40.00,356.70 41.00,355.45 42.00,354.20 43.00,353.63 44.00,353.07 45.00,352.50 46.00,351.93 47.00,351.37 48.00,350.80 49.00,347.50 50.00,344.20 51.00,344.60 52.00,345.00 53.00,347.50 54.00,346.65 55.00,345.80 56.00,345.80 57.00,345.80 58.00,346.93 59.00,348.07 60.00,349.20 61.00,350.30 62.00,351.40 63.00,352.50 64.00,352.70 65.00,352.90 66.00,353.10 67.00,353.30 68.00,355.00 69.00,356.65 70.00,358.30 71.00,360.00 72.00,361.70 73.00,364.20 74.00,362.50 75.00,360.80 76.00,359.55 77.00,358.30 78.00,357.50 79.00,354.60 80.00,351.70 81.00,351.70 82.00,351.70 83.00,351.70 84.00,352.50 85.00,353.30 86.00,352.05 87.00,350.80 88.00,351.93 89.00,353.07 90.00,354.20 91.00,356.70 92.00,359.20 93.00,360.57 94.00,361.93 95.00,363.30 96.00,362.90 97.00,362.50 98.00,362.10 99.00,361.70 100.00,362.95 101.00,364.20 102.00,365.00 103.00,364.57 104.00,364.13 105.00,363.70 106.00,363.70 107.00,363.70 108.00,357.50 109.00,357.25 110.00,357.00 111.00,357.25 112.00,357.50 113.00,357.77 114.00,358.03 115.00,358.30 116.00,357.50 117.00,356.70 118.00,360.00 119.00,358.35 120.00,356.70 121.00,356.25 122.00,355.80 123.00,355.40 124.00,355.00 125.00,357.00 126.00,355.60 127.00,354.20 128.00,354.37 129.00,354.53 130.00,354.70 131.00,354.70 132.00,354.70 133.00,354.70 134.00,354.77 135.00,354.85 136.00,354.93 137.00,355.00 138.00,355.73 139.00,356.47 140.00,357.20 141.00,357.60 142.00,358.00 143.00,356.17 144.00,354.33 145.00,352.50 146.00,352.90 147.00,353.30 148.00,354.70 149.00,353.60 150.00,352.50 151.00,352.10 152.00,351.70 153.00,351.30 154.00,351.05 155.00,350.80 156.00,350.80 157.00,350.80 158.00,350.80 159.00,348.90 160.00,347.00 161.00,348.90 162.00,350.80 163.00,350.00 164.00,349.15 165.00,348.30 166.00,347.05 167.00,345.80 168.00,345.97 169.00,346.13 170.00,346.30 171.00,346.05 172.00,345.80 173.00,345.30 174.00,345.55 175.00,345.80 176.00,347.05 177.00,348.30 178.00,350.80 179.00,350.40 180.00,350.00 181.00,350.40 182.00,350.80 183.00,350.80 184.00,351.25 185.00,351.70 186.00,353.75 187.00,355.80 188.00,360.00 189.00,358.75 190.00,357.50 191.00,357.90 192.00,358.30 193.00,361.70 194.00,363.35 195.00,365.00 196.00,365.15 197.00,365.30 198.00,364.20 199.00,363.60 200.00,363.00 201.00,362.15 202.00,361.30 203.00,359.70 204.00,359.00 205.00,358.30 206.00,355.80 207.00,353.30 208.00,351.70 209.00,351.50 210.00,351.30 211.00,351.05 212.00,350.80 213.00,353.70 214.00,353.95 215.00,354.20 216.00,354.45 217.00,354.70 218.00,350.80 219.00,352.05 220.00,353.30 221.00,354.55 222.00,355.80 223.00,357.50 224.00,357.90 225.00,358.30 226.00,359.55 227.00,360.80 228.00,359.20 229.00,358.35 230.00,357.50 231.00,356.25 232.00,355.00 233.00,350.00 234.00,349.85 235.00,349.70 236.00,349.85 237.00,350.00 238.00,352.50 239.00,352.75 240.00,353.00 241.00,352.35 242.00,351.70 243.00,353.00 244.00,353.60 245.00,354.20 246.00,355.25 247.00,356.30 248.00,355.30 249.00,354.50 250.00,353.70 251.00,354.60 252.00,355.50 253.00,355.50 254.00,354.60 255.00,353.70 256.00,353.10 257.00,352.50 258.00,354.70 259.00,354.45 260.00,354.20 261.00,352.10 262.00,350.00 263.00,349.70 264.00,350.70 265.00,351.70 266.00,351.95 267.00,352.20 268.00,352.00 269.00,351.85 270.00,351.70 271.00,350.00 272.00,348.30 273.00,344.20 274.00,343.95 275.00,343.70 276.00,343.35 277.00,343.00 278.00,343.00 279.00,342.75 280.00,342.50 281.00,343.35 282.00,344.20 283.00,344.20 284.00,344.10 285.00,344.00 286.00,344.00 287.00,344.00 288.00,346.30 289.00,348.60 290.00,348.60 291.00,348.60 292.00,348.30 293.00,348.00 294.00,348.50 295.00,349.00 296.00,348.00 297.00,347.00 298.00,348.00 299.00,349.00 300.00,357.00 301.00,358.00 302.00,357.30 303.00,356.60 304.00,355.80 305.00,355.00 306.00,352.50 307.00,350.00 308.00,349.30 309.00,348.60 310.00,348.30 311.00,348.00 312.00,347.00 313.00,346.00 314.00,345.30 315.00,344.60 316.00,344.60 317.00,344.60 318.00,345.30 319.00,346.00 320.00,345.50 321.00,345.00 322.00,343.80 323.00,342.60 324.00,341.30 325.00,340.00 326.00,339.70 327.00,339.40 328.00,339.00 329.00,338.60 330.00,339.00 331.00,339.40 332.00,339.00 333.00,338.60 334.00,339.00 335.00,339.40 336.00,340.00 337.00,340.60 338.00,340.80 339.00,341.00 340.00,342.00 341.00,343.00 342.00,345.00 343.00,347.00 344.00,349.00 345.00,351.00 346.00,353.00 347.00,355.00 348.00,357.00 349.00,359.00 350.00,358.00 351.00,357.00 352.00,355.80 353.00,354.60 354.00,355.30 355.00,356.00 356.00,356.50 357.00,357.00 358.00,356.00 359.00,355.00 360.00,355.50 361.00,356.00 362.00,357.00 363.00,358.00 364.00,359.50 365.00,361.00 366.00,359.50 367.00,358.00 368.00,359.30 369.00,360.60 370.00,360.60 371.00,360.60 372.00,359.80 373.00,359.00 374.00,356.80 375.00,354.60 376.00,354.30 377.00,354.00 378.00,354.30 379.00,354.60 380.00,354.80 381.00,355.00 382.00,356.00 383.00,357.00 384.00,358.20 385.00,359.40 386.00,360.00 387.00,360.60 388.00,360.30 389.00,360.00 390.00,359.00 391.00,358.00 392.00,356.30 393.00,354.60 394.00,355.30 395.00,356.00" fill="none" stroke="#1010ee" stroke-width="2" stroke-linejoin="round" /></svg><div style="position:absolute;left:0px;top:0px;width:600px;height:1px;background:#bcbcbc;"></div><div style="position:absolute;left:0px;top:1px;width:600px;height:1px;background:#a6a6a6;"></div><div style="position:absolute;left:0px;top:0px;width:1px;height:414px;background:#b6b6b6;"></div><div style="position:absolute;left:1px;top:1px;width:1px;height:413px;background:#a4a4a4;"></div><div style="position:absolute;left:598px;top:2px;width:1px;height:412px;background:#e6e6e6;"></div><div style="position:absolute;left:599px;top:2px;width:1px;height:412px;background:#cacaca;"></div><div style="position:absolute;left:0px;top:414px;width:600px;height:1px;background:#404040;"></div><div style="position:absolute;left:0px;top:415px;width:600px;height:11px;background:#e9e9e9;"></div><div style="position:absolute;left:0px;top:425px;width:600px;height:1px;background:#e3e3e3;"></div><div style="position:absolute;top:415.53px;font:normal 8px/8px 'Liberation Sans', sans-serif;color:#222;white-space:nowrap;left:452.00px;">Published by eSignal (www.esignal.com)</div><div style="position:absolute;top:3.29px;font:bold 11px/11px 'Liberation Sans', sans-serif;color:#000;white-space:nowrap;letter-spacing:-0.06px;left:2.00px;">($UKX-FTSE - FTSE 100,D) Dynamic,0:00-24:00</div><div style="position:absolute;top:16.09px;font:normal 11px/11px 'Liberation Sans', sans-serif;color:#787878;white-space:nowrap;letter-spacing:-0.1px;left:2.30px;">MA(55,C)e</div><div style="position:absolute;top:5.59px;font:bold 11px/11px 'Liberation Sans', sans-serif;color:#000;white-space:nowrap;letter-spacing:-0.33px;left:283.00px;">8474.41</div><div style="position:absolute;top:11.29px;font:bold 11px/11px 'Liberation Sans', sans-serif;color:#000;white-space:nowrap;letter-spacing:-0.15px;left:334.40px;">0.000 (8474.41)</div><div style="position:absolute;top:38.69px;font:bold 11px/11px 'Liberation Sans', sans-serif;color:#000;white-space:nowrap;letter-spacing:-0.27px;left:482.00px;">(8307.92)</div><div style="position:absolute;top:79.69px;font:bold 11px/11px 'Liberation Sans', sans-serif;color:#962828;white-space:nowrap;letter-spacing:-0.25px;left:334.40px;">0.382 (8065.54394)</div><div style="position:absolute;top:122.09px;font:bold 11px/11px 'Liberation Sans', sans-serif;color:#2f962f;white-space:nowrap;letter-spacing:-0.25px;left:334.40px;">0.618 (7812.94606)</div><div style="position:absolute;top:191.99px;font:bold 11px/11px 'Liberation Sans', sans-serif;color:#000;white-space:nowrap;letter-spacing:-0.15px;left:195.80px;">0.000 (7404.08)</div><div style="position:absolute;top:206.19px;font:bold 11px/11px 'Liberation Sans', sans-serif;color:#000;white-space:nowrap;letter-spacing:-0.33px;left:202.50px;">7404.08</div><div style="position:absolute;top:191.99px;font:bold 11px/11px 'Liberation Sans', sans-serif;color:#000;white-space:nowrap;letter-spacing:-0.15px;left:334.70px;">1.000 (7404.08)</div><div style="position:absolute;top:248.52px;font:bold 6px/6px 'Liberation Sans', sans-serif;color:#333;white-space:nowrap;letter-spacing:0.1px;left:4.00px;">&copy; eSignal, 2011</div><div style="position:absolute;top:262.69px;font:bold 11px/11px 'Liberation Sans', sans-serif;color:#22228a;white-space:nowrap;letter-spacing:-0.2px;left:2.50px;">MACD(12,26,9,C)</div><div style="position:absolute;top:330.39px;font:bold 11px/11px 'Liberation Sans', sans-serif;color:#2020ee;white-space:nowrap;letter-spacing:-0.2px;left:3.00px;">RSI(14,C)</div><div style="position:absolute;top:3.49px;font:bold 11px/11px 'Liberation Sans', sans-serif;color:#000;white-space:nowrap;letter-spacing:-0.2px;left:539.00px;">8600.00</div><div style="position:absolute;top:30.09px;font:bold 11px/11px 'Liberation Sans', sans-serif;color:#000;white-space:nowrap;letter-spacing:-0.2px;left:539.00px;">8400.00</div><div style="position:absolute;top:97.89px;font:bold 11px/11px 'Liberation Sans', sans-serif;color:#000;white-space:nowrap;letter-spacing:-0.2px;left:539.00px;">8000.00</div><div style="position:absolute;top:131.89px;font:bold 11px/11px 'Liberation Sans', sans-serif;color:#000;white-space:nowrap;letter-spacing:-0.2px;left:539.00px;">7800.00</div><div style="position:absolute;top:165.89px;font:bold 11px/11px 'Liberation Sans', sans-serif;color:#000;white-space:nowrap;letter-spacing:-0.2px;left:539.00px;">7600.00</div><div style="position:absolute;top:199.29px;font:bold 11px/11px 'Liberation Sans', sans-serif;color:#000;white-space:nowrap;letter-spacing:-0.2px;left:539.00px;">7400.00</div><div style="position:absolute;top:233.29px;font:bold 11px/11px 'Liberation Sans', sans-serif;color:#000;white-space:nowrap;letter-spacing:-0.2px;left:539.00px;">7200.00</div><div style="position:absolute;left:539px;top:68px;width:57px;height:13px;background:#666;overflow:hidden"><div style="position:absolute;left:0;top:1px;font:normal 11px/11px 'Liberation Sans', sans-serif;color:#dde;white-space:nowrap">8160.57165</div></div><div style="position:absolute;left:539px;top:62px;width:51px;height:12px;background:#ff0000;"></div><div style="position:absolute;top:63.09px;font:normal 11px/11px 'Liberation Sans', sans-serif;color:#fff;white-space:nowrap;letter-spacing:-0.25px;transform:scaleY(1.08);transform-origin:0 80%;-webkit-text-stroke:0.2px #fff;left:539.20px;">8203.9297</div><div style="position:absolute;left:539px;top:295px;width:25px;height:3px;background:#ff00ff;"></div><div style="position:absolute;left:539px;top:297px;width:30px;height:14px;background:#000080;"></div><div style="position:absolute;left:539px;top:297px;width:24.3px;height:14px;background:#3aaa70;"></div><div style="position:absolute;top:298.89px;font:normal 11px/11px 'Liberation Sans', sans-serif;color:#fff;white-space:nowrap;letter-spacing:-0.2px;transform:scaleY(1.15);transform-origin:0 85%;-webkit-text-stroke:0.15px #fff;left:539.00px;">-8.864</div><div style="position:absolute;top:329.19px;font:bold 11px/11px 'Liberation Sans', sans-serif;color:#000;white-space:nowrap;left:539.50px;">100</div><div style="position:absolute;left:539px;top:350px;width:27px;height:13px;background:#0000ff;"></div><div style="position:absolute;top:351.89px;font:normal 11px/11px 'Liberation Sans', sans-serif;color:#fff;white-space:nowrap;letter-spacing:-0.3px;transform:scaleY(1.08);transform-origin:0 80%;-webkit-text-stroke:0.2px #fff;left:539.30px;">49.43</div><div style="position:absolute;top:373.19px;font:bold 11px/11px 'Liberation Sans', sans-serif;color:#000;white-space:nowrap;left:539.50px;">0</div><div style="position:absolute;top:387.89px;font:bold 11px/11px 'Liberation Sans', sans-serif;color:#000;white-space:nowrap;letter-spacing:-0.3px;left:18.23px;transform:translateX(-50%);">14</div><div style="position:absolute;top:387.89px;font:bold 11px/11px 'Liberation Sans', sans-serif;color:#000;white-space:nowrap;letter-spacing:-0.3px;left:35.15px;transform:translateX(-50%);">29</div><div style="position:absolute;top:387.89px;font:bold 11px/11px 'Liberation Sans', sans-serif;color:#000;white-space:nowrap;letter-spacing:-0.3px;left:50.38px;transform:translateX(-50%);">11</div><div style="position:absolute;top:387.89px;font:bold 11px/11px 'Liberation Sans', sans-serif;color:#000;white-space:nowrap;letter-spacing:-0.3px;left:67.30px;transform:translateX(-50%);">25</div><div style="position:absolute;top:387.89px;font:bold 11px/11px 'Liberation Sans', sans-serif;color:#000;white-space:nowrap;letter-spacing:-0.3px;left:84.22px;transform:translateX(-50%);">09</div><div style="position:absolute;top:387.89px;font:bold 11px/11px 'Liberation Sans', sans-serif;color:#000;white-space:nowrap;letter-spacing:-0.3px;left:101.14px;transform:translateX(-50%);">23</div><div style="position:absolute;top:387.89px;font:bold 11px/11px 'Liberation Sans', sans-serif;color:#000;white-space:nowrap;letter-spacing:-0.3px;left:118.06px;transform:translateX(-50%);">06</div><div style="position:absolute;top:387.89px;font:bold 11px/11px 'Liberation Sans', sans-serif;color:#000;white-space:nowrap;letter-spacing:-0.3px;left:134.98px;transform:translateX(-50%);">20</div><div style="position:absolute;top:387.89px;font:bold 11px/11px 'Liberation Sans', sans-serif;color:#000;white-space:nowrap;letter-spacing:-0.3px;left:151.90px;transform:translateX(-50%);">04</div><div style="position:absolute;top:387.89px;font:bold 11px/11px 'Liberation Sans', sans-serif;color:#000;white-space:nowrap;letter-spacing:-0.3px;left:168.82px;transform:translateX(-50%);">18</div><div style="position:absolute;top:387.89px;font:bold 11px/11px 'Liberation Sans', sans-serif;color:#000;white-space:nowrap;letter-spacing:-0.3px;left:182.35px;transform:translateX(-50%);">02</div><div style="position:absolute;top:387.89px;font:bold 11px/11px 'Liberation Sans', sans-serif;color:#000;white-space:nowrap;letter-spacing:-0.3px;left:197.58px;transform:translateX(-50%);">15</div><div style="position:absolute;top:387.89px;font:bold 11px/11px 'Liberation Sans', sans-serif;color:#000;white-space:nowrap;letter-spacing:-0.3px;left:214.50px;transform:translateX(-50%);">29</div><div style="position:absolute;top:387.89px;font:bold 11px/11px 'Liberation Sans', sans-serif;color:#000;white-space:nowrap;letter-spacing:-0.3px;left:231.42px;transform:translateX(-50%);">12</div><div style="position:absolute;top:387.89px;font:bold 11px/11px 'Liberation Sans', sans-serif;color:#000;white-space:nowrap;letter-spacing:-0.3px;left:248.34px;transform:translateX(-50%);">26</div><div style="position:absolute;top:387.89px;font:bold 11px/11px 'Liberation Sans', sans-serif;color:#000;white-space:nowrap;letter-spacing:-0.3px;left:265.26px;transform:translateX(-50%);">11</div><div style="position:absolute;top:387.89px;font:bold 11px/11px 'Liberation Sans', sans-serif;color:#000;white-space:nowrap;letter-spacing:-0.3px;left:282.18px;transform:translateX(-50%);">25</div><div style="position:absolute;top:387.89px;font:bold 11px/11px 'Liberation Sans', sans-serif;color:#000;white-space:nowrap;letter-spacing:-0.3px;left:295.72px;transform:translateX(-50%);">08</div><div style="position:absolute;top:387.89px;font:bold 11px/11px 'Liberation Sans', sans-serif;color:#000;white-space:nowrap;letter-spacing:-0.3px;left:312.64px;transform:translateX(-50%);">22</div><div style="position:absolute;top:387.89px;font:bold 11px/11px 'Liberation Sans', sans-serif;color:#000;white-space:nowrap;letter-spacing:-0.3px;left:329.56px;transform:translateX(-50%);">07</div><div style="position:absolute;top:387.89px;font:bold 11px/11px 'Liberation Sans', sans-serif;color:#000;white-space:nowrap;letter-spacing:-0.3px;left:344.78px;transform:translateX(-50%);">20</div><div style="position:absolute;top:387.89px;font:bold 11px/11px 'Liberation Sans', sans-serif;color:#000;white-space:nowrap;letter-spacing:-0.3px;left:360.01px;transform:translateX(-50%);">03</div><div style="position:absolute;top:387.89px;font:bold 11px/11px 'Liberation Sans', sans-serif;color:#000;white-space:nowrap;letter-spacing:-0.3px;left:376.93px;transform:translateX(-50%);">17</div><div style="position:absolute;top:387.89px;font:bold 11px/11px 'Liberation Sans', sans-serif;color:#000;white-space:nowrap;letter-spacing:-0.3px;left:393.85px;transform:translateX(-50%);">01</div><div style="position:absolute;top:400.69px;font:bold 11px/11px 'Liberation Sans', sans-serif;color:#000;white-space:nowrap;letter-spacing:-0.2px;left:34.50px;">Sep</div><div style="position:absolute;top:400.69px;font:bold 11px/11px 'Liberation Sans', sans-serif;color:#000;white-space:nowrap;letter-spacing:-0.2px;left:69.20px;">Oct</div><div style="position:absolute;top:400.69px;font:bold 11px/11px 'Liberation Sans', sans-serif;color:#000;white-space:nowrap;letter-spacing:-0.2px;left:106.50px;">Nov</div><div style="position:absolute;top:400.69px;font:bold 11px/11px 'Liberation Sans', sans-serif;color:#000;white-space:nowrap;letter-spacing:-0.2px;left:143.90px;">Dec</div><div style="position:absolute;top:400.69px;font:bold 11px/11px 'Liberation Sans', sans-serif;color:#000;white-space:nowrap;letter-spacing:-0.2px;left:175.50px;">2024</div><div style="position:absolute;top:400.69px;font:bold 11px/11px 'Liberation Sans', sans-serif;color:#000;white-space:nowrap;letter-spacing:-0.2px;left:213.50px;">Feb</div><div style="position:absolute;top:400.69px;font:bold 11px/11px 'Liberation Sans', sans-serif;color:#000;white-space:nowrap;letter-spacing:-0.2px;left:249.10px;">Mar</div><div style="position:absolute;top:400.69px;font:bold 11px/11px 'Liberation Sans', sans-serif;color:#000;white-space:nowrap;letter-spacing:-0.2px;left:282.50px;">Apr</div><div style="position:absolute;top:400.69px;font:bold 11px/11px 'Liberation Sans', sans-serif;color:#000;white-space:nowrap;letter-spacing:-0.2px;left:319.10px;">May</div><div style="position:absolute;top:400.69px;font:bold 11px/11px 'Liberation Sans', sans-serif;color:#000;white-space:nowrap;letter-spacing:-0.2px;left:353.90px;">Jun</div><div style="position:absolute;top:400.69px;font:bold 11px/11px 'Liberation Sans', sans-serif;color:#000;white-space:nowrap;letter-spacing:-0.2px;left:387.90px;">Jul</div>
</div></body></html>
